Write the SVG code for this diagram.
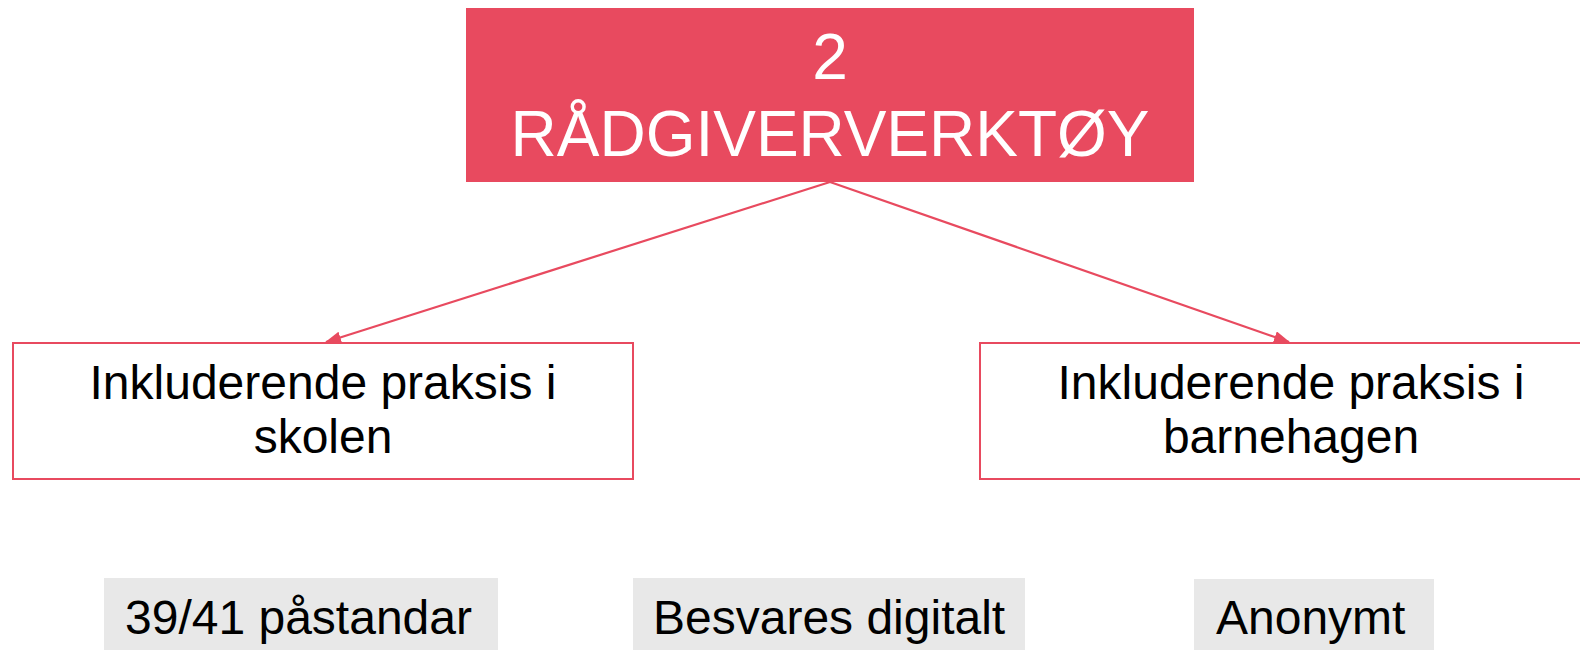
<svg xmlns="http://www.w3.org/2000/svg" width="1580" height="650" viewBox="0 0 1580 650">
<style>
text{font-family:"Liberation Sans",Arial,sans-serif;font-size:48px;fill:#000}
.title{font-size:64px;fill:#fff;text-anchor:middle}
.mid{text-anchor:middle}
.box{fill:#fff;stroke:#E84A5F;stroke-width:2}
.tag{fill:#E8E8E8}
.conn{stroke:#E84A5F;stroke-width:2.2;fill:none}
</style>
<defs>
<marker id="ah" viewBox="0 0 16 12" refX="15" refY="6" markerWidth="16" markerHeight="12" markerUnits="userSpaceOnUse" orient="auto">
<path d="M0,0 L16,6 L0,12 z" fill="#E84A5F"/>
</marker>
</defs>
<g id="root">
<rect x="466" y="8" width="728" height="174" fill="#E84A5F"/>
<text class="title" x="830" y="79">2</text>
<text class="title" x="830" y="156">RÅDGIVERVERKTØY</text>
</g>
<g id="skole">
<rect class="box" x="13" y="343" width="620" height="136"/>
<text class="mid" x="323" y="399">Inkluderende praksis i</text>
<text class="mid" x="323" y="453">skolen</text>
</g>
<g id="barnehage">
<rect class="box" x="980" y="343" width="622" height="136"/>
<text class="mid" x="1291" y="399">Inkluderende praksis i</text>
<text class="mid" x="1291" y="453">barnehagen</text>
</g>
<g id="tag1">
<rect class="tag" x="104" y="578" width="394" height="72"/>
<text x="125" y="634">39/41 påstandar</text>
</g>
<g id="tag2">
<rect class="tag" x="633" y="578" width="392" height="72"/>
<text x="653" y="634">Besvares digitalt</text>
</g>
<g id="tag3">
<rect class="tag" x="1194" y="579" width="240" height="71"/>
<text x="1216" y="634">Anonymt</text>
</g>
<g id="connectors">
<line class="conn" x1="830" y1="182" x2="326" y2="342" marker-end="url(#ah)"/>
<line class="conn" x1="830" y1="182" x2="1289" y2="342" marker-end="url(#ah)"/>
</g>
</svg>
